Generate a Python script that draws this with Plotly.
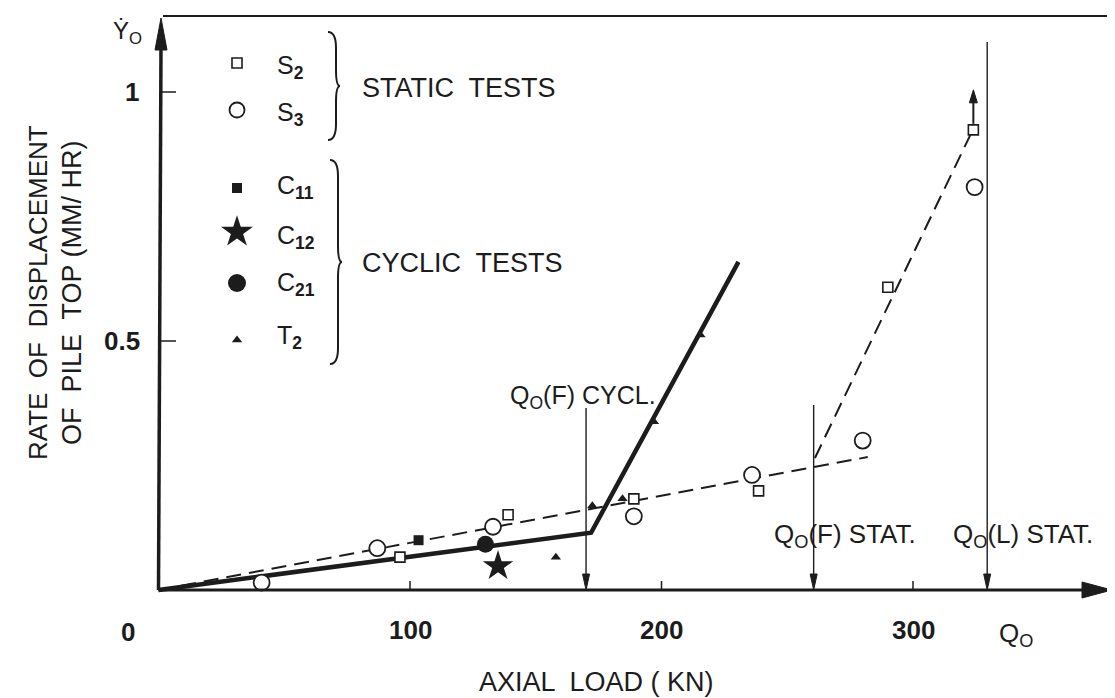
import plotly.graph_objects as go

# ---------------- data ----------------
s2_x = [96, 139, 189, 238.6, 290, 324]
s2_y = [0.066, 0.151, 0.183, 0.199, 0.608, 0.924]
s3_x = [41, 87, 133, 189, 236, 280, 324.5]
s3_y = [0.015, 0.084, 0.127, 0.148, 0.231, 0.300, 0.809]
c11_x = [103.4]
c11_y = [0.100]
c12_x = [135]
c12_y = [0.048]
c21_x = [130]
c21_y = [0.092]
t2_x = [158, 172.5, 184.5, 197, 215.5]
t2_y = [0.066, 0.169, 0.183, 0.338, 0.512]

cyc_fit_x = [0, 172, 230.6]
cyc_fit_y = [0, 0.115, 0.659]
stat_fit1_x = [0, 282]
stat_fit1_y = [0, 0.267]
stat_fit2_x = [261, 323]
stat_fit2_y = [0.265, 0.916]

q_f_cycl = 170
q_f_stat = 260.5
q_l_stat = 329.5

x_ticks = [100, 200, 300]
x_tick_labels = ["100", "200", "300"]
y_ticks = [0.5, 1]
y_tick_labels = ["0.5", "1"]

legend_names = ["S<sub><b>2</b></sub>", "S<sub><b>3</b></sub>", "C<sub><b>11</b></sub>",
                "C<sub><b>12</b></sub>", "C<sub><b>21</b></sub>", "T<sub><b>2</b></sub>"]

# ---------------- geometry ----------------
W, H = 1115, 698
OFF = 8                    # page body margin
X0, Y0 = 158.5, 590.0      # page-pixel position of origin
SX, SY = 2.515, 498.0      # pixels per data unit

def px(xp):
    return (xp - X0) / SX

def py(yp):
    return (Y0 - yp) / SY

INK = "#1c1c1c"
FONT = "Liberation Sans, Arial, Helvetica, sans-serif"

fig = go.Figure()

# fitted lines
fig.add_trace(go.Scatter(x=stat_fit1_x, y=stat_fit1_y, mode="lines",
                         line=dict(color=INK, width=2, dash="15px,8px"), hoverinfo="skip"))
fig.add_trace(go.Scatter(x=stat_fit2_x, y=stat_fit2_y, mode="lines",
                         line=dict(color=INK, width=2, dash="15px,8px"), hoverinfo="skip"))
fig.add_trace(go.Scatter(x=cyc_fit_x, y=cyc_fit_y, mode="lines",
                         line=dict(color=INK, width=4.5), hoverinfo="skip"))

# data markers
def mk(symbol, size, filled, lw=1.6):
    if filled:
        return dict(symbol=symbol, size=size, color=INK, line=dict(color=INK, width=0))
    return dict(symbol=symbol, size=size, color="white", line=dict(color=INK, width=lw))

series = [
    (s2_x, s2_y, mk("square", 10, False, 1.6)),
    (s3_x, s3_y, mk("circle", 16, False, 1.8)),
    (c11_x, c11_y, mk("square", 10, True)),
    (c12_x, c12_y, mk("star", 23, True)),
    (c21_x, c21_y, mk("circle", 17, True)),
    (t2_x, t2_y, mk("triangle-up", 9, True)),
]
for xs, ys, m in series:
    fig.add_trace(go.Scatter(x=xs, y=ys, mode="markers", marker=m, cliponaxis=False))

# legend (drawn as in the original figure)
leg_rows_px = [63, 110, 188, 232, 283, 340]
leg_markers = [mk("square", 10, False, 1.6), mk("circle", 15, False, 1.8), mk("square", 10, True),
               mk("star", 24, True), mk("circle", 18, True), mk("triangle-up", 9, True)]
for yr, m in zip(leg_rows_px, leg_markers):
    fig.add_trace(go.Scatter(x=[px(237)], y=[py(yr)], mode="markers", marker=m, cliponaxis=False))

shapes = []
# axes
shapes.append(dict(type="line", x0=0, y0=0, x1=px(1088), y1=0, line=dict(color=INK, width=3)))
shapes.append(dict(type="line", x0=0, y0=0, x1=px(161) - px(158.5), y1=py(45), line=dict(color=INK, width=3.5)))

def tri(tipx, tipy, basex1, basey1, basex2, basey2):
    return dict(type="path",
                path=f"M {tipx},{tipy} L {basex1},{basey1} L {basex2},{basey2} Z",
                fillcolor=INK, line=dict(color=INK, width=1))

# axis arrowheads
shapes.append(tri(px(1112), 0, px(1082), py(582), px(1082), py(598)))
shapes.append(tri(px(161), py(18), px(155), py(50), px(167), py(50)))

# axis ticks
for t in x_ticks:
    shapes.append(dict(type="line", x0=t, y0=0, x1=t, y1=py(581), line=dict(color=INK, width=1.5)))
for t in y_ticks:
    shapes.append(dict(type="line", x0=px(160), y0=t, x1=px(176), y1=t, line=dict(color=INK, width=1.5)))

# frame (top and right)
shapes.append(dict(type="line", x0=px(163), y0=py(16), x1=px(1115), y1=py(16), line=dict(color=INK, width=2)))
shapes.append(dict(type="line", x0=px(1113), y0=py(16), x1=px(1113), y1=py(573), line=dict(color=INK, width=1.5)))

# vertical reference lines with arrowheads
for q, top in [(q_f_cycl, py(408)), (q_f_stat, py(405)), (q_l_stat, py(42))]:
    shapes.append(dict(type="line", x0=q, y0=top, x1=q, y1=py(Y0 - 14), line=dict(color=INK, width=1.4)))
    shapes.append(tri(q, 0, q - 3.5 / SX, 16 / SY, q + 3.5 / SX, 16 / SY))

# upward arrow above the last S2 point
shapes.append(dict(type="line", x0=s2_x[-1], y0=s2_y[-1] + 6 / SY, x1=s2_x[-1], y1=s2_y[-1] + 30 / SY,
                   line=dict(color=INK, width=2)))
shapes.append(tri(s2_x[-1], s2_y[-1] + 40 / SY, s2_x[-1] - 4 / SX, s2_y[-1] + 27 / SY,
                  s2_x[-1] + 4 / SX, s2_y[-1] + 27 / SY))

# braces
def brace(xl, yt, yb, w=8, tip=4, r=16):
    ym = (yt + yb) / 2
    P = lambda a, b: f"{px(a)},{py(b)}"
    path = (f"M {P(xl, yt)} Q {P(xl + w, yt)} {P(xl + w, yt + r)} L {P(xl + w, ym - r)} "
            f"Q {P(xl + w, ym)} {P(xl + w + tip, ym)} Q {P(xl + w, ym)} {P(xl + w, ym + r)} "
            f"L {P(xl + w, yb - r)} Q {P(xl + w, yb)} {P(xl, yb)}")
    return dict(type="path", path=path, line=dict(color=INK, width=2))

shapes.append(brace(328, 32, 140))
shapes.append(brace(330, 160, 364))

annotations = []

def txt(text, xp, yp, size=24, xanchor="center", yanchor="middle", angle=0):
    annotations.append(dict(text=text, x=px(xp), y=py(yp), xref="x", yref="y", showarrow=False,
                            xanchor=xanchor, yanchor=yanchor, textangle=angle,
                            font=dict(family=FONT, size=size, color=INK)))

# tick labels
txt("<b>0</b>", 128, 632, 26)
for t, lab in zip(x_ticks, x_tick_labels):
    txt(f"<b>{lab}</b>", X0 + t * SX, 630, 26)
txt("Q<sub>O</sub>", 1016, 634, 26)
for t, lab in zip(y_ticks, y_tick_labels):
    txt(f"<b>{lab}</b>", 132 if lab == "1" else 122, Y0 - t * SY, 26)
txt("\u1E8E<sub>O</sub>", 127, 32, 24)

# axis titles
txt("RATE  OF  DISPLACEMENT", 38, 293, 26, angle=-90)
txt("OF  PILE  TOP (MM/ HR)", 72, 293, 27, angle=-90)
txt("AXIAL  LOAD ( KN)", 596, 682, 27)

# reference-line labels
txt("Q<sub>O</sub>(F) CYCL.", 508, 397, 25, xanchor="left")
txt("Q<sub>O</sub>(F) STAT.", 772, 535, 26, xanchor="left")
txt("Q<sub>O</sub>(L) STAT.", 951, 535, 26, xanchor="left")

# legend labels
leg_text_px = [67, 114, 187, 237, 284, 337]
for name, yr in zip(legend_names, leg_text_px):
    txt(name, 275, yr, 25, xanchor="left")
txt("STATIC  TESTS", 360, 88, 27, xanchor="left")
txt("CYCLIC  TESTS", 360, 263, 27, xanchor="left")

fig.update_layout(
    width=W - OFF, height=H - OFF, autosize=False,
    margin=dict(l=0, r=0, t=0, b=0, pad=0),
    paper_bgcolor="white", plot_bgcolor="white",
    showlegend=False,
    xaxis=dict(range=[px(OFF), px(W)], visible=False, fixedrange=True),
    yaxis=dict(range=[py(H), py(OFF)], visible=False, fixedrange=True),
    shapes=shapes, annotations=annotations,
    font=dict(family=FONT, color=INK),
)

fig.write_html("out.html")
